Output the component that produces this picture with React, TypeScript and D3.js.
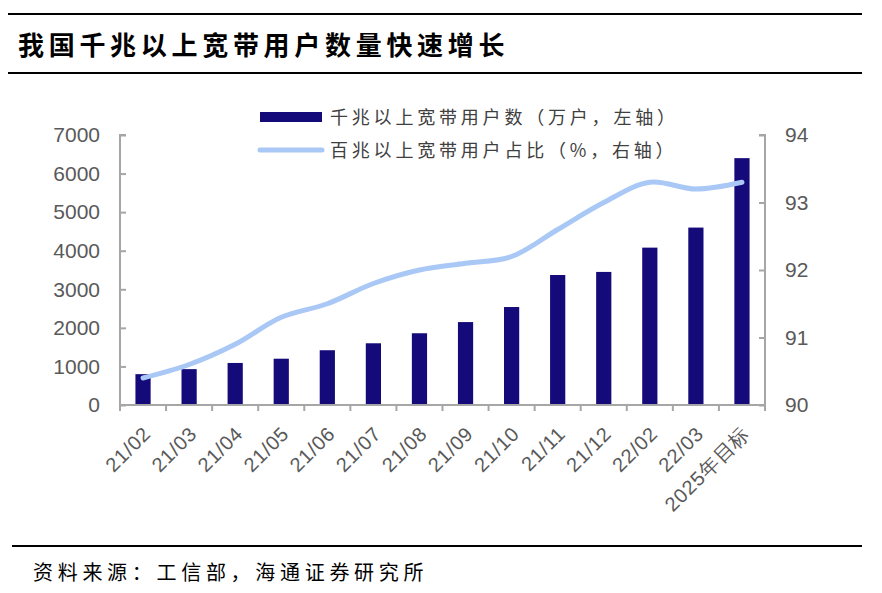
import { useEffect, useRef } from 'react';
import * as d3 from 'd3';

const categories = ['21/02', '21/03', '21/04', '21/05', '21/06', '21/07', '21/08', '21/09', '21/10', '21/11', '21/12', '22/02', '22/03', '2025年目标'];
const gigabitUsers = [800, 930, 1090, 1200, 1420, 1600, 1860, 2150, 2540, 3370, 3450, 4080, 4600, 6400];
const shareOver100M = [90.4, 90.6, 90.9, 91.3, 91.5, 91.8, 92.0, 92.1, 92.2, 92.6, 93.0, 93.3, 93.2, 93.3];
const leftTicks = [0, 1000, 2000, 3000, 4000, 5000, 6000, 7000];
const rightTicks = [90, 91, 92, 93, 94];

const W = 882;
const H = 593;
const cjk = '"Noto Sans CJK SC", "Noto Sans", sans-serif';
const num = '"Liberation Sans", Arial, sans-serif';

function App() {
    const ref = useRef<SVGSVGElement>(null);

    useEffect(() => {
        const svg = d3.select(ref.current);
        svg.selectAll('*').remove();

        const left = 120, right = 765, top = 135, bottom = 405;

        // header & footer rules
        svg.append('line').attr('x1', 7).attr('x2', 862).attr('y1', 14).attr('y2', 14).attr('stroke', '#000').attr('stroke-width', 2);
        svg.append('line').attr('x1', 7).attr('x2', 862).attr('y1', 73).attr('y2', 73).attr('stroke', '#000').attr('stroke-width', 2);
        svg.append('line').attr('x1', 12).attr('x2', 862).attr('y1', 546).attr('y2', 546).attr('stroke', '#000').attr('stroke-width', 2);

        svg.append('text').attr('x', 18).attr('y', 55).attr('font-family', cjk).attr('font-weight', 700)
            .attr('font-size', 26).attr('letter-spacing', 4.7).attr('fill', '#000').text('我国千兆以上宽带用户数量快速增长');
        svg.append('text').attr('x', 33).attr('y', 580).attr('font-family', cjk)
            .attr('font-size', 20).attr('letter-spacing', 4.7).attr('fill', '#000').text('资料来源：工信部，海通证券研究所');

        const x = d3.scaleBand<string>().domain(categories).range([left, right]);
        const yL = d3.scaleLinear().domain([0, 7000]).range([bottom, top]);
        const yR = d3.scaleLinear().domain([90, 94]).range([bottom, top]);

        const axisColor = '#a6a6a6';

        // bars
        const barW = x.bandwidth() * 0.33;
        svg.append('g').selectAll('rect').data(categories).enter().append('rect')
            .attr('x', (d) => (x(d) as number) + x.bandwidth() / 2 - barW / 2)
            .attr('y', (_d, i) => yL(gigabitUsers[i]))
            .attr('width', barW)
            .attr('height', (_d, i) => bottom - yL(gigabitUsers[i]))
            .attr('fill', '#140a7a');

        // left axis
        const gL = svg.append('g').attr('transform', `translate(${left},0)`)
            .call(d3.axisRight(yL).tickValues(leftTicks).tickSize(6).tickFormat((d) => String(d)));
        gL.select('.domain').attr('stroke', axisColor).attr('stroke-width', 2).attr('d', `M6,${top}H0V${bottom}`);
        gL.selectAll('.tick line').attr('stroke', axisColor).attr('stroke-width', 2);
        gL.selectAll('.tick text').attr('x', -20).attr('text-anchor', 'end').attr('font-family', num)
            .attr('font-size', 21).attr('fill', '#595959');

        // right axis
        const gR = svg.append('g').attr('transform', `translate(${right},0)`)
            .call(d3.axisLeft(yR).tickValues(rightTicks).tickSize(6).tickFormat((d) => String(d)));
        gR.select('.domain').attr('stroke', axisColor).attr('stroke-width', 2).attr('d', `M-6,${top}H0V${bottom}`);
        gR.selectAll('.tick line').attr('stroke', axisColor).attr('stroke-width', 2);
        gR.selectAll('.tick text').attr('x', 20).attr('text-anchor', 'start').attr('font-family', num)
            .attr('font-size', 21).attr('fill', '#595959');

        // bottom axis with boundary ticks
        svg.append('line').attr('x1', left).attr('x2', right).attr('y1', bottom).attr('y2', bottom)
            .attr('stroke', axisColor).attr('stroke-width', 2);
        svg.append('g').selectAll('line').data(categories.concat(['__end'])).enter().append('line')
            .attr('x1', (d, i) => (i < categories.length ? (x(d) as number) : right))
            .attr('x2', (d, i) => (i < categories.length ? (x(d) as number) : right))
            .attr('y1', bottom).attr('y2', bottom + 6)
            .attr('stroke', axisColor).attr('stroke-width', 2);
        svg.append('g').selectAll('text').data(categories).enter().append('text')
            .attr('transform', (d) => `translate(${(x(d) as number) + x.bandwidth() / 2 + 9},${bottom + 30}) rotate(-45)`)
            .attr('text-anchor', 'end').attr('letter-spacing', 0.8)
            .attr('font-family', num).attr('font-size', 20).attr('fill', '#595959')
            .text((d) => d);

        // line
        const line = d3.line<number>()
            .x((_d, i) => (x(categories[i]) as number) + x.bandwidth() / 2)
            .y((d) => yR(d))
            .curve(d3.curveCatmullRom.alpha(0.5));
        svg.append('path').datum(shareOver100M).attr('d', line).attr('fill', 'none')
            .attr('stroke', '#a9c8f5').attr('stroke-width', 5).attr('stroke-linecap', 'round');

        // legend
        svg.append('rect').attr('x', 260).attr('y', 112).attr('width', 62).attr('height', 10).attr('fill', '#140a7a');
        svg.append('line').attr('x1', 260).attr('x2', 322).attr('y1', 150).attr('y2', 150)
            .attr('stroke', '#a9c8f5').attr('stroke-width', 5).attr('stroke-linecap', 'round');
        svg.append('text').attr('x', 330).attr('y', 124).attr('font-family', cjk).attr('font-size', 18)
            .attr('letter-spacing', 3.8).attr('fill', '#404040').text('千兆以上宽带用户数（万户，左轴）');
        svg.append('text').attr('x', 330).attr('y', 157).attr('font-family', cjk).attr('font-size', 18)
            .attr('letter-spacing', 3.8).attr('fill', '#404040').text('百兆以上宽带用户占比（%，右轴）');
    }, []);

    return (
        <svg ref={ref} width={W} height={H} style={{ display: 'block', margin: '-8px', background: '#fff' }}></svg>
    );
}

export default App;
